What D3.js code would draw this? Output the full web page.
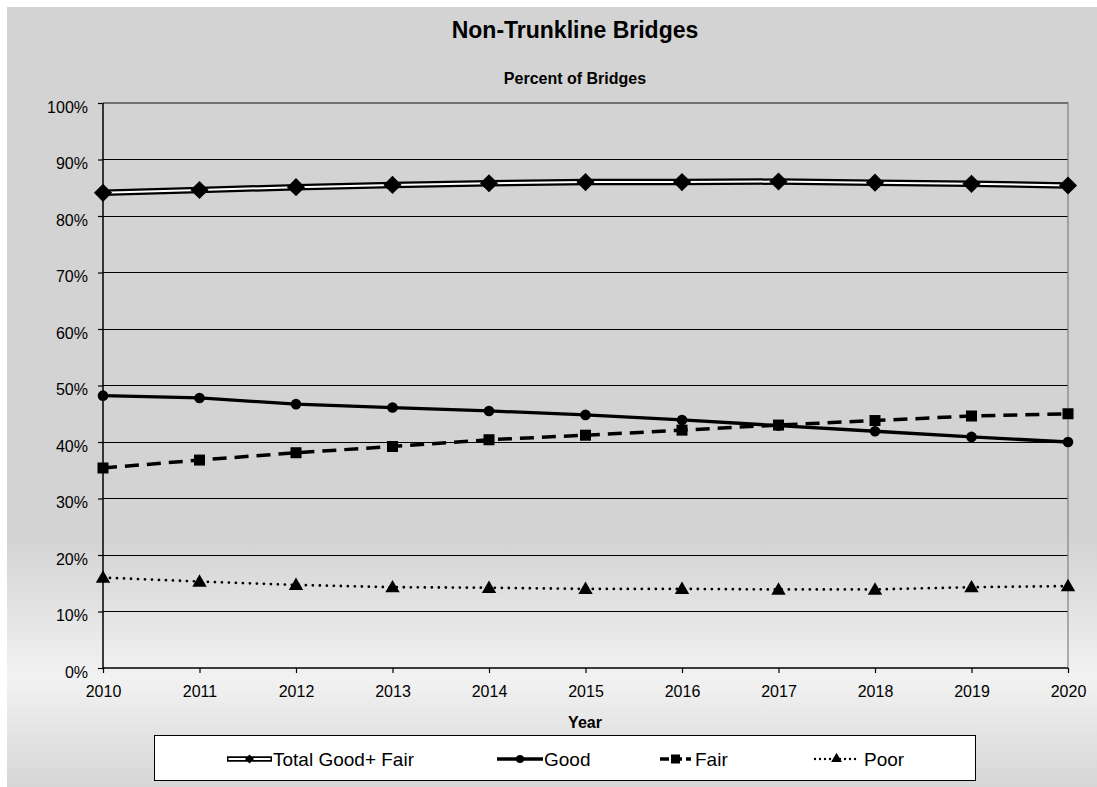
<!DOCTYPE html>
<html><head><meta charset="utf-8">
<script src="https://cdn.jsdelivr.net/npm/d3@7"></script>
<style>html,body{margin:0;padding:0;background:#fff;overflow:hidden;}svg{display:block;}</style>
</head><body>
<svg id="c" width="1097" height="787"></svg>
<script>
const years = [2010,2011,2012,2013,2014,2015,2016,2017,2018,2019,2020];
const totalGoodFair = [84.1,84.6,85.1,85.5,85.8,86.0,86.0,86.1,85.9,85.7,85.4];
const good = [48.2,47.8,46.7,46.1,45.5,44.8,43.9,42.9,41.9,40.9,40.0];
const fair = [35.4,36.8,38.1,39.2,40.4,41.2,42.1,43.0,43.8,44.6,45.0];
const poor = [16.0,15.3,14.7,14.3,14.2,14.0,14.0,13.9,13.9,14.3,14.5];
const yTicks = [0,10,20,30,40,50,60,70,80,90,100];
const seriesNames = ["Total Good+ Fair","Good","Fair","Poor"];

const svg = d3.select("#c");
const W = 1097, H = 787;
const font = "'Liberation Sans', Arial, sans-serif";

// background gradient
const defs = svg.append("defs");
const g = defs.append("linearGradient").attr("id","bg").attr("x1",0).attr("y1",0).attr("x2",0).attr("y2",1);
[[0,"#d3d3d3"],[0.68,"#d3d3d3"],[0.86,"#f2f2f2"],[1,"#d6d6d6"]].forEach(s=>g.append("stop").attr("offset",s[0]).attr("stop-color",s[1]));
svg.append("rect").attr("x",7).attr("y",7).attr("width",W-7).attr("height",H-7).attr("fill","url(#bg)");

const x = d3.scaleLinear().domain([2010,2020]).range([103,1068]);
const y = d3.scaleLinear().domain([0,100]).range([668,103]);

// gridlines
svg.append("g").selectAll("line").data(yTicks.filter(t=>t>0)).join("line")
  .attr("x1",103).attr("x2",1068).attr("y1",d=>y(d)).attr("y2",d=>y(d))
  .attr("stroke",d=>d===100?"#707070":"#000").attr("stroke-width",d=>d===100?2:1).attr("shape-rendering","crispEdges");
// right border
svg.append("line").attr("x1",1068).attr("x2",1068).attr("y1",102).attr("y2",668).attr("stroke","#808080").attr("stroke-width",1.2);

// axes
const yAxis = d3.axisLeft(y).tickValues(yTicks).tickFormat(d=>d+"%").tickSize(5).tickPadding(10);
const ya = svg.append("g").attr("transform","translate(103,0)").call(yAxis);
const xAxis = d3.axisBottom(x).tickValues(years).tickFormat(d3.format("d")).tickSize(5).tickPadding(13);
const xa = svg.append("g").attr("transform","translate(0,668)").call(xAxis);
[ya,xa].forEach(a=>{
  a.select(".domain").attr("stroke","#000").attr("stroke-width",1.5);
  a.selectAll(".tick line").attr("stroke","#000").attr("stroke-width",1.2);
  a.selectAll("text").attr("font-family",font).attr("font-size",16).attr("fill","#000");
});
ya.selectAll("text").attr("dy","0.57em");
ya.select(".domain").attr("d","M0,103V668");
xa.select(".domain").attr("d","M103,0H1068");

// titles
svg.append("text").attr("x",575).attr("y",38).attr("text-anchor","middle").attr("font-family",font)
  .attr("font-weight","bold").attr("font-size",23).text("Non-Trunkline Bridges");
svg.append("text").attr("x",575).attr("y",84).attr("text-anchor","middle").attr("font-family",font)
  .attr("font-weight","bold").attr("font-size",16).text("Percent of Bridges");
svg.append("text").attr("x",585).attr("y",728).attr("text-anchor","middle").attr("font-family",font)
  .attr("font-weight","bold").attr("font-size",16).text("Year");

const line = d3.line().x((d,i)=>x(years[i])).y(d=>y(d));

// Total: double line
svg.append("path").datum(totalGoodFair).attr("d",line).attr("fill","none").attr("stroke","#000").attr("stroke-width",6.5);
svg.append("path").datum(totalGoodFair).attr("d",line).attr("fill","none").attr("stroke","#fff").attr("stroke-width",2);
svg.append("g").selectAll("path").data(totalGoodFair).join("path")
  .attr("transform",(d,i)=>`translate(${x(years[i])},${y(d)}) rotate(45)`)
  .attr("d",d3.symbol().type(d3.symbolSquare).size(165)).attr("fill","#000");

// Good
svg.append("path").datum(good).attr("d",line).attr("fill","none").attr("stroke","#000").attr("stroke-width",3.3);
svg.append("g").selectAll("circle").data(good).join("circle")
  .attr("cx",(d,i)=>x(years[i])).attr("cy",d=>y(d)).attr("r",5.3).attr("fill","#000");

// Fair
svg.append("path").datum(fair).attr("d",line).attr("fill","none").attr("stroke","#000").attr("stroke-width",3.5).attr("stroke-dasharray","14,8");
svg.append("g").selectAll("rect").data(fair).join("rect")
  .attr("x",(d,i)=>x(years[i])-5.5).attr("y",d=>y(d)-5.5).attr("width",11).attr("height",11).attr("fill","#000");

// Poor
svg.append("path").datum(poor).attr("d",line).attr("fill","none").attr("stroke","#000").attr("stroke-width",2.8)
  .attr("stroke-dasharray","0,7").attr("stroke-linecap","round");
svg.append("g").selectAll("path").data(poor).join("path")
  .attr("transform",(d,i)=>`translate(${x(years[i])},${y(d)+1})`)
  .attr("d",d3.symbol().type(d3.symbolTriangle).size(90)).attr("fill","#000");

// Legend
const lg = svg.append("g");
lg.append("rect").attr("x",154.5).attr("y",735.5).attr("width",821).attr("height",45).attr("fill","#fff").attr("stroke","#000").attr("stroke-width",1);
const ly = 759;
const items = [
  {x0:227,x1:272,tx:273},
  {x0:497,x1:543,tx:544},
  {x0:660,x1:691,tx:695},
  {x0:815,x1:858,tx:864}
];
// total
lg.append("line").attr("x1",items[0].x0).attr("x2",items[0].x1).attr("y1",ly).attr("y2",ly).attr("stroke","#000").attr("stroke-width",5.5);
lg.append("line").attr("x1",items[0].x0+1.5).attr("x2",items[0].x1-1.5).attr("y1",ly).attr("y2",ly).attr("stroke","#fff").attr("stroke-width",1.8);
lg.append("path").attr("transform",`translate(${(items[0].x0+items[0].x1)/2},${ly}) rotate(45)`).attr("d",d3.symbol().type(d3.symbolSquare).size(40)).attr("fill","#000");
// good
lg.append("line").attr("x1",items[1].x0).attr("x2",items[1].x1).attr("y1",ly).attr("y2",ly).attr("stroke","#000").attr("stroke-width",3.3);
lg.append("circle").attr("cx",(items[1].x0+items[1].x1)/2).attr("cy",ly).attr("r",4).attr("fill","#000");
// fair
lg.append("line").attr("x1",items[2].x0).attr("x2",items[2].x1).attr("y1",ly).attr("y2",ly).attr("stroke","#000").attr("stroke-width",3.5).attr("stroke-dasharray","9,4");
lg.append("rect").attr("x",(items[2].x0+items[2].x1)/2-4.5).attr("y",ly-4.5).attr("width",9).attr("height",9).attr("fill","#000");
// poor
lg.append("line").attr("x1",items[3].x0).attr("x2",items[3].x1).attr("y1",ly).attr("y2",ly).attr("stroke","#000").attr("stroke-width",2.4).attr("stroke-dasharray","0,5").attr("stroke-linecap","round");
lg.append("path").attr("transform",`translate(${(items[3].x0+items[3].x1)/2},${ly})`).attr("d",d3.symbol().type(d3.symbolTriangle).size(50)).attr("fill","#000");
lg.selectAll("text.lt").data(seriesNames).join("text").attr("class","lt")
  .attr("x",(d,i)=>items[i].tx).attr("y",ly+7).attr("font-family",font).attr("font-size",19).attr("fill","#000").text(d=>d);
</script>
</body></html>
